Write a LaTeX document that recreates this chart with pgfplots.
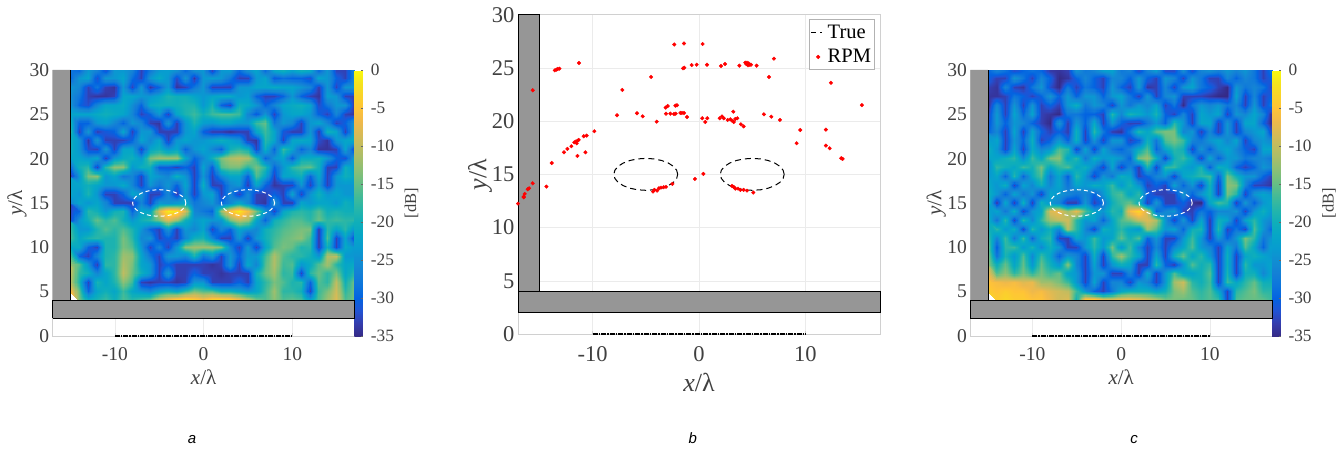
\documentclass[border=0pt]{standalone}
\usepackage{fontspec}
\setmainfont{Liberation Serif}
\newfontfamily\capfont{Liberation Sans}
\usepackage{pgfplots}
\pgfplotsset{compat=1.18}
\usepackage{pgfplotstable}
\usepgfplotslibrary{patchplots}
\definecolor{tickc}{HTML}{404040}
\definecolor{framec}{HTML}{D0D0D0}
\definecolor{wallc}{HTML}{969696}
\pgfkeys{/pgf/number format/assume math mode=true}
\pgfplotsset{colormap={parula}{
rgb=(.2081,.1663,.5292) rgb=(.2081,.2386,.6771) rgb=(.1253,.3242,.8303) rgb=(.0117,.3875,.8820)
rgb=(.0498,.4586,.8641) rgb=(.0779,.5040,.8384) rgb=(.0641,.5570,.8240) rgb=(.0265,.6137,.8135)
rgb=(.0228,.6535,.7768) rgb=(.0590,.6838,.7254) rgb=(.1453,.7098,.6646) rgb=(.2586,.7317,.5954)
rgb=(.3953,.7459,.5244) rgb=(.5300,.7491,.4661) rgb=(.6473,.7456,.4188) rgb=(.7525,.7384,.3768)
rgb=(.8507,.7299,.3360) rgb=(.9450,.7261,.2886) rgb=(.9990,.7653,.2164) rgb=(.9789,.8271,.1633)
rgb=(.9589,.8949,.1132) rgb=(.9763,.9831,.0538)}}
\pgfplotstableread{
x y
-2 15
-2.1 15.39
-2.4 15.75
-2.88 16.06
-3.5 16.3
-4.22 16.45
-5 16.5
-5.78 16.45
-6.5 16.3
-7.12 16.06
-7.6 15.75
-7.9 15.39
-8 15
-7.9 14.61
-7.6 14.25
-7.12 13.94
-6.5 13.7
-5.78 13.55
-5 13.5
-4.22 13.55
-3.5 13.7
-2.88 13.94
-2.4 14.25
-2.1 14.61
-2 15
}\ellL
\pgfplotstableread{
x y
8 15
7.9 15.39
7.6 15.75
7.12 16.06
6.5 16.3
5.78 16.45
5 16.5
4.22 16.45
3.5 16.3
2.88 16.06
2.4 15.75
2.1 15.39
2 15
2.1 14.61
2.4 14.25
2.88 13.94
3.5 13.7
4.22 13.55
5 13.5
5.78 13.55
6.5 13.7
7.12 13.94
7.6 14.25
7.9 14.61
8 15
}\ellR
\pgfplotsset{
 base/.style={scale only axis,xmin=-17,xmax=17,ymin=0,ymax=30,clip=false,
  xtick={-10,0,10},ytick={0,5,...,30},
  axis line style={draw=framec,line width=.6pt},
  tick style={draw=framec,line width=.5pt},major tick length=3pt,
  tick align=inside,xtick pos=lower,ytick pos=left,
  ticklabel style={text=tickc},
  grid=major,grid style={draw=black!8,line width=.4pt},
  every axis x label/.style={at={(axis description cs:0.5,0)},anchor=center,text=tickc},
  every axis y label/.style={at={(axis description cs:0,0.5)},anchor=center,rotate=90,text=tickc},
 },
 heatax/.style={scale only axis,width=301.8pt,height=266pt,
  xmin=-17,xmax=17,ymin=0,ymax=30,view={0}{90},
  axis lines=none,ticks=none,
  colormap name=parula,point meta min=-35,point meta max=0,
  colorbar,colorbar style={scale only axis,width=8.4pt,height=266pt,
   at={(1,1)},anchor=north west,xshift=8.3pt,
   ytick={-35,-30,...,0},ymin=-35,ymax=0,
   tick align=inside,major tick length=2pt,
   tick style={draw=black!60,line width=.4pt},
   ytick pos=right,yticklabel pos=right,
   axis line style={draw=none},
   yticklabel style={font=\fontsize{17.3}{19}\selectfont,text=tickc,xshift=4.5pt},
   ylabel={[dB]},
   every axis y label/.style={at={(axis description cs:1,0.5)},anchor=center,rotate=90,yshift=-48.5pt,
     font=\fontsize{16.5}{18}\selectfont,text=tickc},
  },
 },
 heatplot/.style={surf,shader=interp,patch type=bilinear,mesh/cols=33,mesh/ordering=x varies,point meta={-\thisrowno{0}}},
}
\begin{document}
\begin{tikzpicture}[x=1pt,y=1pt]
\path[use as bounding box] (0,0) rectangle (1343,450);
% ---------- panel a frame
\begin{axis}[base,at={(52.7pt,114pt)},anchor=south west,width=301.8pt,height=266pt,
 ticklabel style={font=\fontsize{19.5}{21}\selectfont},
 xticklabel style={yshift=-8pt},
 xlabel={\textit{x}/λ},ylabel={\textit{y}/λ},
 xlabel style={font=\fontsize{21}{23}\selectfont,yshift=-41pt},
 ylabel style={font=\fontsize{21}{23}\selectfont,yshift=35.7pt},
]
\addplot[draw=none] coordinates {(0,0)};
\end{axis}
\begin{axis}[heatax,at={(52.7pt,114pt)},anchor=south west]
\addplot3[heatplot] table[header=false,row sep=crcr,x expr={mod(\coordindex,33)-15},y expr={30-floor(\coordindex/33)},z expr=0]{
28\\30\\24\\26\\32\\24\\24\\26\\33\\28\\24\\23\\24\\30\\24\\24\\34\\24\\23\\29\\24\\22\\30\\21\\19\\22\\19\\20\\30\\24\\33\\33\\26\\
30\\24\\22\\32\\24\\24\\22\\29\\33\\24\\21\\24\\32\\24\\34\\24\\23\\24\\28\\33\\33\\24\\22\\31\\29\\30\\30\\32\\22\\24\\30\\33\\26\\
24\\26\\33\\28\\33\\34\\24\\33\\24\\34\\30\\24\\34\\33\\28\\24\\33\\33\\33\\24\\24\\22\\22\\21\\22\\22\\24\\26\\33\\24\\33\\24\\24\\
25\\28\\33\\34\\34\\33\\22\\22\\24\\24\\22\\19\\20\\20\\22\\24\\22\\21\\21\\24\\23\\30\\33\\33\\30\\24\\30\\33\\34\\23\\24\\33\\33\\
24\\30\\32\\26\\22\\22\\21\\25\\30\\21\\20\\20\\20\\19\\19\\24\\19\\30\\33\\20\\21\\24\\30\\26\\22\\21\\20\\22\\32\\28\\24\\24\\34\\
22\\22\\22\\21\\20\\21\\22\\26\\33\\30\\24\\33\\22\\19\\17\\20\\17\\16\\16\\17\\26\\31\\24\\33\\24\\22\\22\\24\\30\\33\\26\\33\\34\\
21\\30\\30\\24\\23\\26\\30\\24\\26\\33\\34\\24\\33\\24\\19\\23\\24\\22\\22\\24\\24\\17\\15\\28\\24\\26\\33\\24\\22\\26\\33\\30\\24\\
17\\33\\24\\33\\31\\30\\22\\33\\24\\24\\33\\33\\33\\24\\22\\30\\33\\33\\34\\33\\33\\22\\17\\22\\31\\33\\33\\24\\33\\20\\22\\33\\22\\
20\\24\\34\\24\\33\\33\\33\\30\\22\\26\\22\\33\\24\\22\\24\\24\\22\\20\\22\\24\\33\\34\\18\\22\\33\\22\\21\\22\\32\\34\\24\\22\\21\\
20\\24\\32\\33\\24\\33\\22\\22\\33\\22\\20\\24\\22\\30\\24\\22\\26\\30\\20\\18\\20\\33\\20\\30\\17\\22\\30\\26\\34\\34\\33\\22\\33\\
22\\22\\24\\22\\33\\24\\21\\20\\24\\14\\12\\12\\12\\22\\30\\26\\20\\14\\11\\10\\11\\18\\30\\24\\22\\31\\21\\21\\20\\24\\30\\32\\22\\
24\\20\\18\\33\\18\\13\\13\\24\\20\\20\\31\\31\\33\\30\\33\\22\\31\\16\\14\\14\\18\\14\\18\\30\\24\\18\\16\\15\\20\\33\\33\\20\\24\\
34\\24\\14\\13\\24\\22\\28\\26\\33\\22\\24\\26\\20\\24\\33\\24\\33\\26\\22\\22\\30\\16\\22\\33\\22\\22\\20\\30\\22\\33\\24\\20\\22\\
22\\22\\20\\22\\24\\24\\21\\26\\33\\24\\28\\24\\30\\22\\33\\20\\33\\33\\26\\24\\33\\22\\30\\34\\33\\33\\24\\33\\24\\33\\24\\24\\24\\
22\\24\\19\\24\\33\\33\\30\\22\\24\\33\\33\\26\\33\\24\\33\\24\\22\\33\\26\\33\\26\\33\\33\\30\\33\\22\\33\\24\\20\\24\\22\\24\\24\\
26\\22\\24\\22\\26\\33\\33\\33\\26\\33\\24\\25\\24\\22\\28\\26\\24\\30\\26\\22\\26\\33\\34\\24\\33\\33\\22\\24\\22\\22\\24\\20\\22\\
33\\30\\18\\20\\24\\20\\19\\30\\22\\22\\8\\1\\2\\8\\26\\28\\30\\12\\5\\1\\6\\14\\24\\33\\22\\19\\18\\19\\16\\20\\19\\20\\20\\
33\\24\\20\\15\\18\\16\\20\\24\\20\\18\\14\\8\\12\\20\\24\\22\\24\\24\\14\\10\\12\\22\\30\\20\\18\\16\\16\\18\\15\\18\\17\\18\\18\\
18\\24\\24\\19\\16\\18\\16\\19\\24\\30\\33\\24\\33\\24\\26\\22\\33\\26\\30\\22\\24\\26\\20\\18\\16\\15\\14\\14\\33\\18\\22\\18\\24\\
16\\22\\19\\18\\19\\19\\14\\18\\26\\24\\33\\30\\33\\26\\20\\19\\26\\33\\33\\24\\33\\24\\20\\17\\15\\14\\13\\17\\33\\16\\33\\22\\33\\
22\\21\\30\\33\\19\\19\\14\\16\\24\\33\\26\\33\\24\\13\\12\\12\\12\\14\\26\\33\\24\\33\\22\\16\\14\\15\\19\\18\\33\\20\\33\\21\\24\\
20\\30\\33\\26\\19\\18\\12\\13\\22\\28\\33\\24\\24\\26\\19\\28\\24\\33\\24\\30\\24\\24\\17\\11\\16\\18\\18\\20\\24\\11\\10\\24\\24\\
12\\16\\24\\33\\18\\18\\11\\14\\22\\24\\33\\30\\33\\33\\33\\33\\34\\33\\24\\33\\22\\26\\16\\11\\17\\16\\24\\21\\16\\12\\18\\22\\21\\
9\\18\\20\\26\\22\\18\\10\\15\\20\\24\\33\\24\\33\\33\\30\\33\\33\\34\\33\\33\\33\\20\\15\\12\\18\\17\\33\\18\\15\\18\\14\\22\\18\\
10\\19\\33\\19\\22\\19\\13\\17\\33\\34\\33\\33\\34\\33\\24\\24\\33\\33\\33\\30\\33\\22\\18\\14\\16\\19\\18\\30\\16\\18\\10\\20\\14\\
5\\15\\30\\22\\20\\22\\17\\22\\24\\26\\22\\20\\22\\18\\14\\16\\16\\20\\20\\22\\24\\22\\17\\12\\18\\18\\20\\33\\17\\14\\9\\18\\14\\
3\\14\\20\\19\\17\\20\\16\\18\\16\\14\\8\\5\\2\\1\\3\\5\\2\\1\\2\\5\\9\\14\\16\\13\\16\\15\\16\\22\\16\\12\\8\\16\\14\\
};
\end{axis}
\begin{axis}[base,at={(52.7pt,114pt)},anchor=south west,width=301.8pt,height=266pt,
 axis line style={draw=none},ticks=none,grid=none]
\addplot[fill=wallc,draw=none] coordinates {(-17,4)(-15,4)(-15,30)(-17,30)(-17,4)};
\addplot[black,line width=1pt] coordinates {(-15,4)(-15,30)};
\addplot[fill=wallc,draw=black,line width=1pt] coordinates {(-17,2)(17,2)(17,4)(-17,4)(-17,2)};
\addplot[white,line width=1pt,dash pattern=on 4pt off 3pt] table[x=x,y=y]{\ellL};
\addplot[white,line width=1pt,dash pattern=on 4pt off 3pt] table[x=x,y=y]{\ellR};
\addplot[black,line width=1.2pt,dash pattern=on 5pt off 1pt on 1.5pt off 1pt] coordinates {(-10,0)(10,0)};
\end{axis}
% ---------- panel b
\begin{axis}[base,at={(518pt,116pt)},anchor=south west,width=362pt,height=319.3pt,
 ticklabel style={font=\fontsize{22.5}{24}\selectfont},
 xticklabel style={yshift=-9pt},
 xlabel={\textit{x}/λ},ylabel={\textit{y}/λ},
 xlabel style={font=\fontsize{26}{28}\selectfont,yshift=-48pt},
 ylabel style={font=\fontsize{26}{28}\selectfont,yshift=38pt},
 legend style={at={(1,1)},anchor=north east,xshift=-5.7pt,yshift=-4.6pt,draw=black!30,line width=.6pt,
  font=\fontsize{20.5}{22}\selectfont,inner xsep=1pt,inner ysep=3pt,row sep=6pt,fill=white,
  /tikz/every even column/.style={column sep=2pt}},
 legend cell align=left,
]
\addplot[forget plot,fill=wallc,draw=black,line width=1pt] coordinates {(-17,4)(-15,4)(-15,30)(-17,30)(-17,4)};
\addplot[forget plot,fill=wallc,draw=black,line width=1pt] coordinates {(-17,2)(17,2)(17,4)(-17,4)(-17,2)};
\addplot[black,line width=1pt,dash pattern=on 6pt off 4pt,legend image code/.code={\draw[black,line width=1pt,dash pattern=on 5pt off 4pt on 2pt off 9pt] (0,0) -- (14pt,0);}] table[x=x,y=y]{\ellL};
\addlegendentry{True}
\addplot[forget plot,black,line width=1pt,dash pattern=on 6pt off 4pt] table[x=x,y=y]{\ellR};
\addplot[forget plot,black,line width=1.2pt,dash pattern=on 5pt off 1pt on 1.5pt off 1pt] coordinates {(-10,0)(10,0)};
\addplot[only marks,mark=*,mark size=1.8pt,red,mark options={draw=none,fill=red},legend image code/.code={\fill[red] (7pt,0) circle (1.8pt);}] coordinates {
(-15.62,22.9)(-13.55,24.77)(-13.4,24.84)(-13.27,24.9)(-13.11,24.93)(-11.27,25.46)(-2.32,27.2)(-1.41,27.3)(0.34,27.25)
(-1.38,25.02)(-1.5,24.96)(-0.69,25.27)(-0.22,25.3)(0.75,25.3)(2.07,25.18)(2.44,25.37)(3.79,25.21)
(4.35,25.49)(4.51,25.49)(4.66,25.43)(4.44,25.37)(4.76,25.3)(4.6,25.24)(4.88,25.3)(5.41,25.21)(7.04,25.87)(6.57,24.15)
(12.39,23.6)(15.3,21.5)(-4.5,24.15)(-7.2,22.93)(-7.7,20.55)(-5.82,20.74)(-5.29,20.45)(-3.97,19.95)
(-3.13,21.27)(-2.94,21.42)(-2.22,21.45)(-2.07,21.49)(-3.1,20.7)(-2.69,20.7)(-2.35,20.67)(-2.19,20.7)
(-1.75,20.77)(-1.6,20.77)(-1.41,20.77)(-1.13,20.39)(0.31,20.27)(0.59,19.92)(0.78,20.27)
(1.94,20.27)(2.16,20.45)(2.32,20.27)(2.69,20.11)(2.94,20.17)(3.22,20.89)(3.1,20.05)(3.26,19.92)(3.41,20.2)(3.6,20.27)
(3.94,19.7)(4.19,19.51)(6.1,20.64)(6.79,20.42)(7.6,20.11)(9.51,19.17)(9.17,17.92)(11.92,19.2)(11.92,17.7)(12.27,17.45)
(13.36,16.51)(13.49,16.45)(-9.83,19.05)(-10.55,18.64)(-10.83,18.58)(-11.39,18.17)(-11.3,18.23)(-11.55,18.1)(-11.71,18.01)
(-11.49,17.92)(-11.99,17.64)(-12.36,17.39)(-12.68,17.07)(-11.42,16.73)(-10.67,17.07)(-13.83,16.07)(-14.33,13.85)
(-15.62,14.16)(-15.96,13.69)(-16.09,13.6)(-16.37,13.16)(-16.46,12.85)(-17,12.25)(-16.47,12.9)
(-4.32,13.38)(-4.19,13.54)(-3.94,13.47)(-3.76,13.69)(-3.57,13.75)(-3.32,13.79)(-3.1,13.82)(-2.5,14.1)(-0.38,14.57)(0.41,15.04)
(3.1,13.91)(3.26,13.82)(3.41,13.66)(3.66,13.66)(3.88,13.54)(4.19,13.54)(4.51,13.47)(5.1,13.29)
};
\addlegendentry{RPM}
\end{axis}
% ---------- panel c frame
\begin{axis}[base,at={(970.3pt,114pt)},anchor=south west,width=301.8pt,height=266pt,
 ticklabel style={font=\fontsize{19.5}{21}\selectfont},
 xticklabel style={yshift=-8pt},
 xlabel={\textit{x}/λ},ylabel={\textit{y}/λ},
 xlabel style={font=\fontsize{21}{23}\selectfont,yshift=-41pt},
 ylabel style={font=\fontsize{21}{23}\selectfont,yshift=34pt},
]
\addplot[draw=none] coordinates {(0,0)};
\end{axis}
\begin{axis}[heatax,at={(970.3pt,114pt)},anchor=south west]
\addplot3[heatplot] table[header=false,row sep=crcr,x expr={mod(\coordindex,33)-15},y expr={30-floor(\coordindex/33)},z expr=0]{
30\\26\\28\\33\\30\\28\\30\\34\\34\\33\\24\\28\\26\\22\\22\\28\\26\\33\\26\\22\\33\\33\\24\\33\\26\\24\\26\\24\\26\\24\\28\\33\\28\\
30\\33\\33\\24\\28\\33\\26\\30\\35\\34\\30\\26\\30\\33\\26\\26\\30\\24\\30\\33\\24\\26\\33\\24\\28\\33\\33\\26\\30\\26\\28\\33\\30\\
33\\34\\26\\33\\34\\28\\24\\32\\35\\28\\33\\28\\30\\33\\24\\30\\33\\24\\34\\33\\26\\33\\24\\22\\28\\30\\33\\35\\24\\28\\26\\28\\33\\
34\\34\\33\\28\\30\\33\\30\\24\\30\\24\\30\\24\\24\\30\\24\\22\\28\\33\\24\\33\\26\\24\\33\\33\\33\\34\\35\\35\\22\\33\\26\\33\\30\\
35\\26\\33\\24\\33\\24\\33\\30\\33\\24\\20\\28\\24\\26\\33\\24\\28\\24\\26\\22\\33\\28\\35\\28\\24\\26\\24\\28\\26\\33\\24\\33\\28\\
33\\24\\33\\22\\30\\22\\33\\34\\35\\28\\28\\30\\30\\33\\18\\26\\19\\21\\24\\19\\30\\33\\26\\33\\22\\24\\22\\33\\24\\26\\22\\26\\35\\
33\\24\\30\\24\\26\\30\\33\\35\\24\\33\\24\\30\\21\\33\\24\\30\\33\\33\\28\\24\\30\\18\\24\\33\\22\\22\\33\\24\\33\\22\\22\\30\\35\\
30\\26\\33\\22\\33\\22\\30\\33\\30\\33\\20\\33\\18\\28\\33\\34\\28\\19\\22\\16\\14\\14\\26\\24\\33\\26\\33\\24\\33\\26\\24\\22\\33\\
26\\22\\33\\24\\30\\20\\33\\30\\24\\30\\20\\33\\24\\33\\24\\24\\33\\30\\20\\28\\16\\14\\17\\26\\28\\24\\22\\26\\22\\33\\26\\24\\26\\
20\\24\\33\\22\\33\\21\\26\\24\\16\\18\\33\\22\\33\\22\\28\\30\\26\\21\\16\\30\\22\\18\\20\\33\\24\\30\\24\\22\\26\\30\\33\\22\\22\\
22\\22\\20\\18\\26\\17\\22\\14\\13\\22\\18\\28\\20\\24\\22\\24\\30\\14\\12\\20\\33\\20\\17\\22\\33\\22\\30\\24\\24\\28\\26\\26\\28\\
26\\18\\20\\22\\17\\20\\14\\22\\18\\16\\22\\20\\26\\33\\22\\33\\26\\33\\19\\33\\18\\17\\22\\24\\19\\30\\20\\22\\30\\33\\30\\24\\26\\
24\\22\\30\\18\\30\\21\\16\\28\\22\\30\\18\\24\\33\\24\\28\\20\\22\\33\\30\\26\\24\\33\\22\\20\\18\\17\\30\\14\\20\\24\\24\\30\\33\\
22\\24\\20\\33\\22\\26\\20\\26\\22\\28\\22\\24\\20\\22\\17\\24\\19\\24\\33\\30\\33\\22\\30\\24\\33\\20\\33\\13\\14\\26\\33\\33\\34\\
20\\24\\30\\22\\28\\24\\33\\22\\24\\26\\28\\26\\30\\24\\18\\16\\22\\18\\30\\33\\33\\33\\24\\30\\24\\20\\33\\14\\18\\33\\24\\22\\24\\
18\\33\\22\\33\\20\\33\\20\\24\\26\\33\\33\\24\\33\\28\\20\\17\\15\\20\\33\\24\\33\\33\\30\\34\\35\\22\\17\\19\\33\\24\\30\\24\\22\\
24\\22\\28\\20\\33\\24\\22\\8\\7\\12\\7\\16\\22\\24\\18\\20\\6\\3\\9\\30\\26\\24\\33\\33\\28\\30\\26\\26\\24\\33\\24\\20\\24\\
20\\28\\18\\33\\18\\26\\18\\12\\10\\9\\18\\24\\22\\30\\22\\16\\14\\10\\8\\11\\24\\33\\24\\33\\22\\33\\20\\22\\33\\22\\18\\24\\26\\
22\\18\\24\\20\\33\\18\\24\\20\\26\\11\\18\\26\\33\\20\\22\\18\\22\\24\\12\\16\\24\\22\\30\\20\\19\\33\\18\\33\\28\\33\\16\\24\\30\\
17\\26\\17\\28\\17\\30\\20\\18\\33\\33\\22\\24\\17\\24\\22\\15\\20\\16\\30\\24\\33\\33\\24\\17\\24\\33\\24\\30\\24\\14\\18\\28\\24\\
14\\30\\18\\17\\24\\19\\26\\20\\24\\33\\33\\24\\18\\24\\14\\24\\17\\26\\33\\26\\33\\26\\22\\16\\24\\26\\33\\22\\28\\16\\22\\30\\22\\
15\\28\\19\\24\\16\\26\\17\\22\\30\\24\\26\\33\\20\\33\\18\\12\\18\\22\\33\\22\\33\\20\\15\\22\\18\\24\\33\\20\\33\\22\\20\\22\\24\\
13\\20\\15\\22\\15\\24\\15\\20\\24\\14\\26\\33\\22\\33\\24\\20\\22\\33\\33\\18\\30\\33\\24\\16\\20\\18\\33\\20\\33\\18\\24\\24\\22\\
10\\16\\13\\18\\14\\18\\14\\17\\15\\22\\24\\33\\24\\24\\33\\33\\26\\33\\22\\33\\24\\16\\22\\22\\20\\16\\33\\19\\33\\20\\20\\26\\22\\
5\\6\\7\\6\\8\\7\\12\\12\\14\\17\\24\\33\\22\\33\\26\\26\\33\\24\\26\\33\\24\\12\\9\\18\\20\\17\\33\\17\\22\\18\\15\\20\\20\\
4\\5\\4\\5\\5\\7\\6\\8\\9\\10\\17\\24\\30\\33\\28\\22\\20\\20\\20\\22\\20\\14\\12\\16\\18\\16\\22\\33\\18\\16\\14\\18\\18\\
3\\4\\3\\4\\4\\5\\5\\7\\9\\8\\20\\2\\1\\5\\6\\5\\5\\6\\8\\10\\14\\14\\15\\15\\17\\16\\17\\33\\16\\15\\15\\15\\17\\
};
\end{axis}
\begin{axis}[base,at={(970.3pt,114pt)},anchor=south west,width=301.8pt,height=266pt,
 axis line style={draw=none},ticks=none,grid=none]
\addplot[fill=wallc,draw=none] coordinates {(-17,4)(-15,4)(-15,30)(-17,30)(-17,4)};
\addplot[black,line width=1pt] coordinates {(-15,4)(-15,30)};
\addplot[fill=wallc,draw=black,line width=1pt] coordinates {(-17,2)(17,2)(17,4)(-17,4)(-17,2)};
\addplot[white,line width=1pt,dash pattern=on 4pt off 3pt] table[x=x,y=y]{\ellL};
\addplot[white,line width=1pt,dash pattern=on 4pt off 3pt] table[x=x,y=y]{\ellR};
\addplot[black,line width=1.2pt,dash pattern=on 5pt off 1pt on 1.5pt off 1pt] coordinates {(-10,0)(10,0)};
\end{axis}
\node[anchor=base,font=\capfont\itshape\fontsize{15}{17}\selectfont] at (192,7) {a};
\node[anchor=base,font=\capfont\itshape\fontsize{15}{17}\selectfont] at (692.7,7) {b};
\node[anchor=base,font=\capfont\itshape\fontsize{15}{17}\selectfont] at (1134,7) {c};
\end{tikzpicture}
\end{document}
